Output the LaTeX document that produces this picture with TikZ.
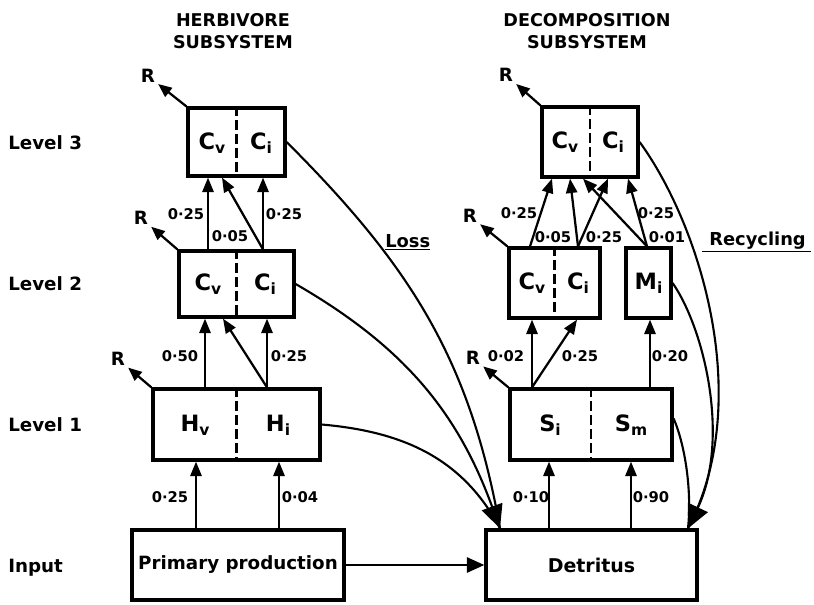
\documentclass[tikz,border=0pt]{standalone}
\usepackage{fontspec}
\setmainfont{DejaVu Sans}
\usetikzlibrary{arrows.meta}
\newcommand{\lowsub}[1]{\raisebox{-0.35ex}{\fontsize{11}{11}\selectfont #1}}
\tikzset{%
    comp/.style={%
        draw, line width=2.3pt, inner sep=0
    },
    part/.style={%
        font=\bfseries\fontsize{16}{18}\selectfont
    },
    divider/.style={%
        line width=1.9pt, dash pattern=on 2.3mm off 1.2mm
    },
    flow/.style={%
        line width=1.6pt, -{Triangle[length=3.6mm, width=2.8mm]}
    },
    num/.style={%
        font=\bfseries\fontsize{10.5}{12}\selectfont
    },
    levellab/.style={%
        anchor=west, font=\bfseries\fontsize{13}{15.6}\selectfont
    },
}

\begin{document}
\begin{tikzpicture}[
        x=0.025cm, y=0.025cm,
        every node/.style={inner sep=0},
        resp/.style={line width=1.6pt, -{Triangle[length=3.4mm, width=2.8mm]}},
        rlab/.style={font=\bfseries\fontsize{13}{15.6}\selectfont, inner sep=2pt},
        ret/.style={line width=1.5pt},
        bigtip/.style={line width=1.5pt, -{Triangle[length=5.8mm, width=5.4mm]}},
        feed/.style={line width=1.8pt, -{Triangle[length=4.4mm, width=3.8mm]}},
    ]
    \useasboundingbox (0,0) rectangle (814,-604);

    % headings and levels
    \node[font=\bfseries\fontsize{12.5}{15.6}\selectfont, align=center] (herbhead) at (233,-31) {HERBIVORE\\SUBSYSTEM};
    \node[font=\bfseries\fontsize{12.5}{15.6}\selectfont, align=center] (dechead) at (587,-31) {DECOMPOSITION\\SUBSYSTEM};
    \node[levellab] (lev3) at (8,-143) {Level 3};
    \node[levellab] (lev2) at (8,-284) {Level 2};
    \node[levellab] (lev1) at (8,-425) {Level 1};
    \node[levellab] (input) at (8,-568) {Input};

    % herbivore compartments
    \node[comp, minimum width=2.425cm, minimum height=1.7cm] (hC3) at (236.5,-142) {};
    \node[comp, minimum width=2.875cm, minimum height=1.65cm] (hC2) at (236.5,-284) {};
    \node[comp, minimum width=4.175cm, minimum height=1.775cm] (hH1) at (236.5,-424.5) {};
    \node[comp, minimum width=5.3cm, minimum height=1.75cm, font=\bfseries\fontsize{13}{16}\selectfont] (pp) at (238,-565) {Primary production};
    \draw[divider] (hC3.north) -- (hC3.south);
    \draw[divider] (hC2.north) -- (hC2.south);
    \draw[divider] (hH1.north) -- (hH1.south);
    \node[part] (hCv3) at (212,-143) {C\lowsub{v}};
    \node[part] (hCi3) at (261,-143) {C\lowsub{i}};
    \node[part] (hCv2) at (208,-284) {C\lowsub{v}};
    \node[part] (hCi2) at (265,-284) {C\lowsub{i}};
    \node[part] (hHv1) at (195,-425) {H\lowsub{v}};
    \node[part] (hHi1) at (278,-425) {H\lowsub{i}};

    % decomposition compartments
    \node[comp, minimum width=2.4cm, minimum height=1.75cm] (dC3) at (590,-142) {};
    \node[comp, minimum width=2.275cm, minimum height=1.75cm] (dC2) at (554.5,-283) {};
    \node[comp, minimum width=1.125cm, minimum height=1.75cm] (dM) at (648.5,-283) {};
    \node[comp, minimum width=4.05cm, minimum height=1.775cm] (dS) at (591,-424.5) {};
    \node[comp, minimum width=5.275cm, minimum height=1.75cm, font=\bfseries\fontsize{13.5}{16}\selectfont] (det) at (591.5,-565) {Detritus};
    \draw[divider] (dC3.north) -- (dC3.south);
    \draw[divider] (dC2.north) -- (dC2.south);
    \draw[divider] (dS.north) -- (dS.south);
    \node[part] (dCv3) at (565,-142) {C\lowsub{v}};
    \node[part] (dCi3) at (613,-142) {C\lowsub{i}};
    \node[part] (dCv2) at (532,-283) {C\lowsub{v}};
    \node[part] (dCi2) at (578,-283) {C\lowsub{i}};
    \node[part] (dMi) at (648.5,-283) {M\lowsub{i}};
    \node[part] (dSi) at (550,-425) {S\lowsub{i}};
    \node[part] (dSm) at (631,-425) {S\lowsub{m}};

    % respiration
    \node[rlab] (rh3) at (148,-76) {R};
    \node[rlab] (rh2) at (141,-218) {R};
    \node[rlab] (rh1) at (118,-359) {R};
    \node[rlab] (rd3) at (506,-75) {R};
    \node[rlab] (rd2) at (470,-216) {R};
    \node[rlab] (rd1) at (473,-358) {R};
    \draw[resp] (hC3.north west) -- (rh3);
    \draw[resp] (hC2.north west) -- (rh2);
    \draw[resp] (hH1.north west) -- (rh1);
    \draw[resp] (dC3.north west) -- (rd3);
    \draw[resp] (dC2.north west) -- (rd2);
    \draw[resp] (dS.north west) -- (rd1);

    % herbivore flows
    \draw[flow] (196,0 |- pp.north) -- (196,0 |- hH1.south);
    \draw[flow] (279,0 |- pp.north) -- (279,0 |- hH1.south);
    \draw[flow] (205,0 |- hH1.north) -- (205,0 |- hC2.south);
    \draw[flow] (267,0 |- hH1.north) -- (267,0 |- hC2.south);
    \draw[flow] (267,0 |- hH1.north) -- (223,0 |- hC2.south);
    \draw[flow] (208,0 |- hC2.north) -- (208,0 |- hC3.south);
    \draw[flow] (263,0 |- hC2.north) -- (263,0 |- hC3.south);
    \draw[flow] (263,0 |- hC2.north) -- (222,0 |- hC3.south);
    \node[num] (n1) at (170,-497) {0·25};
    \node[num] (n2) at (300,-497) {0·04};
    \node[num] (n3) at (180,-356) {0·50};
    \node[num] (n4) at (289,-356) {0·25};
    \node[num] (n5) at (186,-214) {0·25};
    \node[num] (n6) at (284,-214) {0·25};
    \node[num] (n7) at (230,-236) {0·05};

    % decomposition flows
    \draw[flow] (549,0 |- det.north) -- (549,0 |- dS.south);
    \draw[flow] (631,0 |- det.north) -- (631,0 |- dS.south);
    \draw[flow] (532,0 |- dS.north) -- (532,0 |- dC2.south);
    \draw[flow] (532,0 |- dS.north) -- (577,0 |- dC2.south);
    \draw[flow] (650,0 |- dS.north) -- (650,0 |- dM.south);
    \draw[flow] (530,0 |- dC2.north) -- (552,0 |- dC3.south);
    \draw[flow] (578,0 |- dC2.north) -- (570,0 |- dC3.south);
    \draw[flow] (578,0 |- dC2.north) -- (608,0 |- dC3.south);
    \draw[flow] (647,0 |- dM.north) -- (583,0 |- dC3.south);
    \draw[flow] (647,0 |- dM.north) -- (628,0 |- dC3.south);
    \node[num] (m1) at (531,-497) {0·10};
    \node[num] (m2) at (651,-497) {0·90};
    \node[num] (m3) at (506,-356) {0·02};
    \node[num] (m4) at (580,-356) {0·25};
    \node[num] (m5) at (670,-356) {0·20};
    \node[num] (m6) at (519,-213) {0·25};
    \node[num] (m7) at (553,-237) {0·05};
    \node[num] (m8) at (604,-237) {0·25};
    \node[num] (m9) at (667,-237) {0·01};
    \node[num] (m10) at (656,-213) {0·25};

    % primary production to detritus
    \draw[feed] (pp.east) -- (det.west);

    % loss and recycling
    \coordinate (lossin) at (500,0 |- det.north);
    \coordinate (recin) at (688,0 |- det.north);
    \draw[ret] (hC3.east) to[out=-45, in=100] (lossin);
    \draw[bigtip] (hC2.east) to[out=-30, in=110] (lossin);
    \draw[ret] (hH1.east) to[out=-5, in=118] (lossin);
    \draw[ret] (dC3.east) .. controls (700,-225) and (755,-400) .. (recin);
    \draw[bigtip] (dM.east) .. controls (705,-330) and (730,-440) .. (recin);
    \draw[ret] ([yshift=0.15cm]dS.east) .. controls (685,-445) and (692,-490) .. (recin);
    \node[anchor=base west, font=\bfseries\fontsize{12.7}{16}\selectfont] (loss) at (385,-247) {\underline{Loss}};
    \node[anchor=base west, font=\bfseries\fontsize{12.7}{16}\selectfont] (recyc) at (702,-245) {\underline{\hspace{5pt}Recycling\hspace{4pt}}};
\end{tikzpicture}
\end{document}
